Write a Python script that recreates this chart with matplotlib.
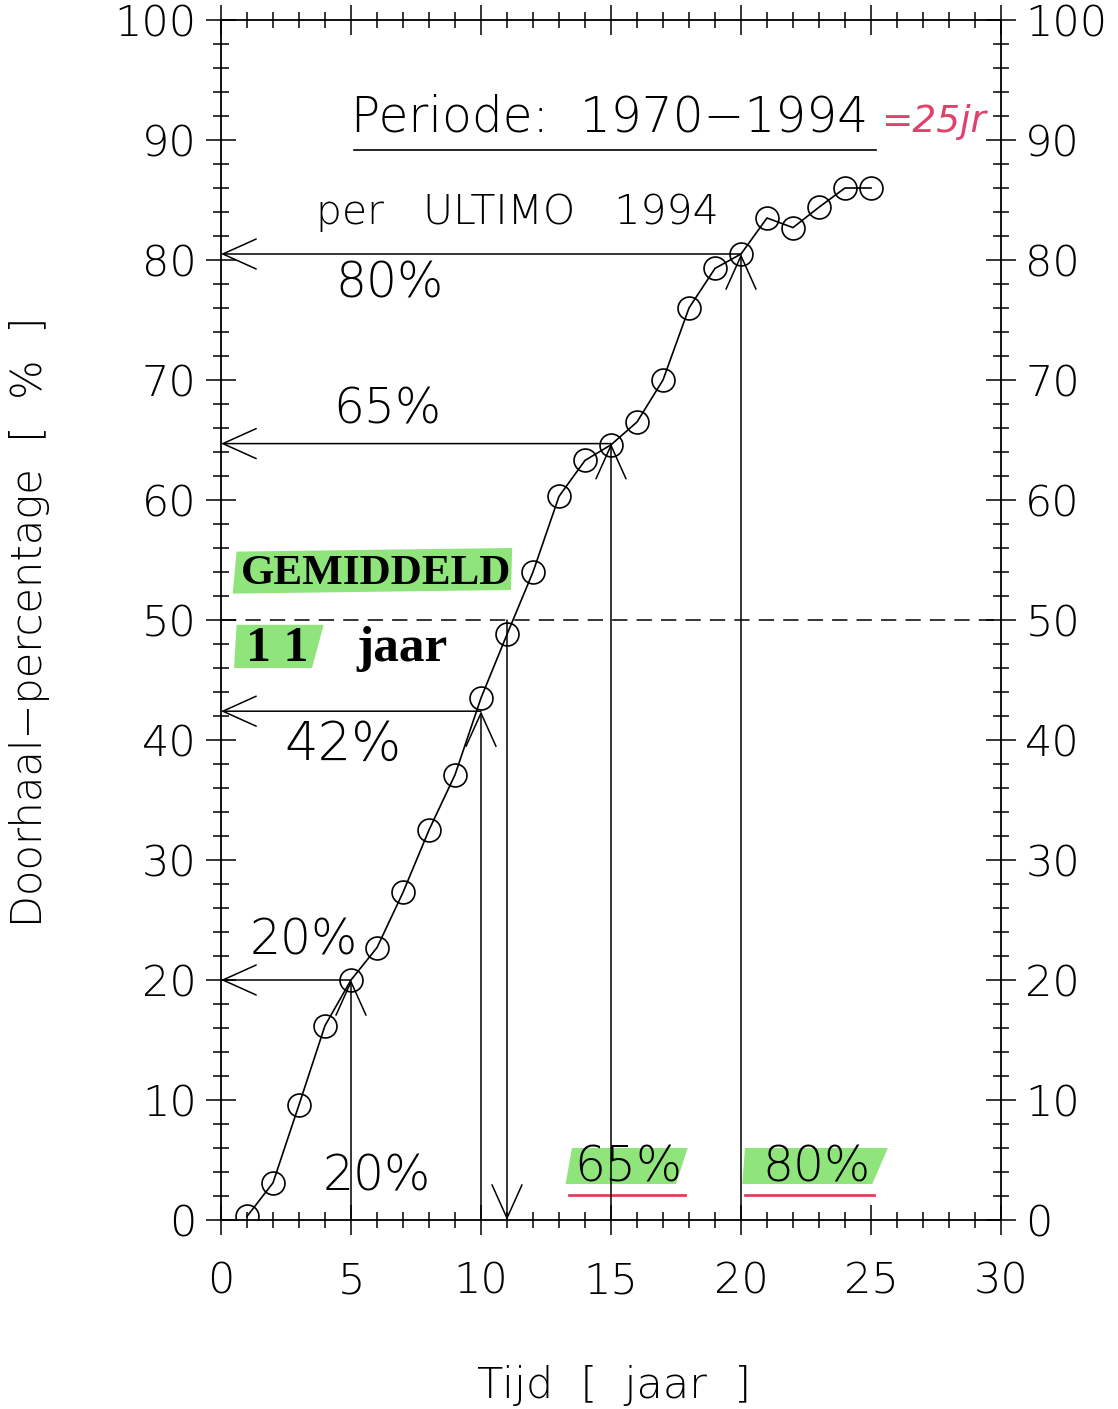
import matplotlib
matplotlib.use("Agg")
import matplotlib.pyplot as plt
from matplotlib.ticker import MultipleLocator
from matplotlib.patches import Polygon

# ---- data ----
years = list(range(1, 26))
pct = [0.3, 3.1, 9.6, 16.2, 20.0, 22.7, 27.3, 32.5, 37.1, 43.5,
       48.8, 54.0, 60.3, 63.3, 64.6, 66.5, 70.0, 76.0, 79.3, 80.5,
       83.5, 82.7, 84.4, 86.0, 86.0]
arrow_x = [5, 10, 15, 20]
arrow_y = [20.0, 42.4, 64.7, 80.5]
mean_level = 50
mean_years = 11
x_ticks = [0, 5, 10, 15, 20, 25, 30]
y_ticks = [0, 10, 20, 30, 40, 50, 60, 70, 80, 90, 100]

FONT = "DejaVu Sans"
plt.rcParams['font.family'] = [FONT]

W, H = 1118, 1409
fig = plt.figure(figsize=(W / 100, H / 100), dpi=100)
ax = fig.add_axes([221 / W, 1 - 1220 / H, 780 / W, 1200 / H])

ax.set_xlim(0, 30)
ax.set_ylim(0, 100)
ax.set_xticks(x_ticks)
ax.set_yticks(y_ticks)
ax.xaxis.set_minor_locator(MultipleLocator(1))
ax.yaxis.set_minor_locator(MultipleLocator(2))
ax.tick_params(which='both', direction='inout', top=True, right=True,
               labelright=True, width=1.1, color='black')
ax.tick_params(which='major', length=21)
ax.tick_params(which='minor', length=12)
ax.tick_params(axis='y', which='major', labelsize=31, pad=7)
ax.tick_params(axis='x', which='major', labelsize=31, pad=19)
for lab in ax.get_xticklabels() + ax.get_yticklabels():
    lab.set_fontweight('light')
for s in ax.spines.values():
    s.set_linewidth(1.3)

# curve + markers
ax.plot(years, pct, color='black', lw=1.2, marker='o', ms=16.5,
        mfc='none', mec='black', mew=1.2, zorder=3)

# arrows at 20/42/65/80
aprops = dict(arrowstyle='->,head_length=0.6,head_width=0.27', lw=1.1,
              color='black', shrinkA=0, shrinkB=0, mutation_scale=40)
for xv, yv in zip(arrow_x, arrow_y):
    ax.annotate('', xy=(xv, yv), xytext=(xv, 0), arrowprops=aprops)
    ax.annotate('', xy=(0, yv), xytext=(xv, yv), arrowprops=aprops)

# mean line and arrow
ax.plot([0, 30], [mean_level, mean_level], color='black', lw=1.1,
        dashes=(10, 6))
ax.annotate('', xy=(mean_years, 0), xytext=(mean_years, mean_level),
            arrowprops=aprops)

# highlighter marks (marker-pen style, slightly slanted)
green = '#8fe57c'
def hl(pts):
    ax.add_patch(Polygon(pts, closed=True, fc=green, ec='none', zorder=1))

hl([(0.45, 52.2), (11.15, 52.5), (11.2, 56.0), (0.6, 55.7)])
hl([(0.5, 46.0), (3.5, 46.0), (3.95, 49.6), (0.6, 49.6)])
hl([(13.25, 3.0), (17.5, 3.0), (17.95, 6.0), (13.5, 6.0)])
hl([(20.05, 3.0), (25.05, 3.0), (25.65, 6.0), (20.15, 6.0)])

# texts
tk = dict(fontsize=35, color='black', fontweight='light')
ax.text(5.0, 91.9, 'Periode:  1970\u22121994', ha='left', va='center',
        fontsize=35, fontweight='light')
ax.plot([5.1, 25.2], [89.2, 89.2], color='black', lw=1.2)
ax.text(25.4, 91.5, '=25jr', ha='left', va='center', fontsize=27,
        color='#e0406a', style='italic', clip_on=False)
ax.text(3.65, 84.0, 'per   ULTIMO   1994', ha='left', va='center',
        fontsize=29.5, fontweight='light')
ax.text(6.5, 78.0, '80%', ha='center', va='center', **tk)
ax.text(6.4, 67.5, '65%', ha='center', va='center', **tk)
ax.text(4.7, 39.6, '42%', ha='center', va='center', fontsize=38,
        fontweight='light')
ax.text(3.2, 23.3, '20%', ha='center', va='center', **tk)
ax.text(6.0, 3.6, '20%', ha='center', va='center', **tk)

ax.text(15.65, 4.4, '65%', ha='center', va='center', zorder=4, **tk)
ax.text(22.9, 4.4, '80%', ha='center', va='center', zorder=4, **tk)
ax.plot([13.4, 17.85], [2.1, 2.1], color='#e0405a', lw=2)
ax.plot([20.15, 25.1], [2.1, 2.1], color='#e0405a', lw=2)

ser = ['Liberation Serif', 'DejaVu Serif']
ax.text(0.75, 53.8, 'GEMIDDELD', family=ser, fontweight='bold', fontsize=31,
        ha='left', va='center', zorder=4)
ax.text(0.95, 47.6, '1 1', family=ser, fontweight='bold', fontsize=36,
        ha='left', va='center', zorder=4)
ax.text(5.2, 47.6, 'jaar', family=ser, fontweight='bold', fontsize=37,
        ha='left', va='center', zorder=4)

# axis titles
fig.text(30 / W, 1 - 622 / H, 'Doorhaal\u2212percentage  [  %  ]', rotation=90,
         ha='center', va='center', fontsize=30, fontweight='light')
fig.text(614 / W, 1 - 1385 / H, 'Tijd  [  jaar  ]', ha='center', va='center',
         fontsize=31, fontweight='light')

fig.savefig('out.png', dpi=100)
